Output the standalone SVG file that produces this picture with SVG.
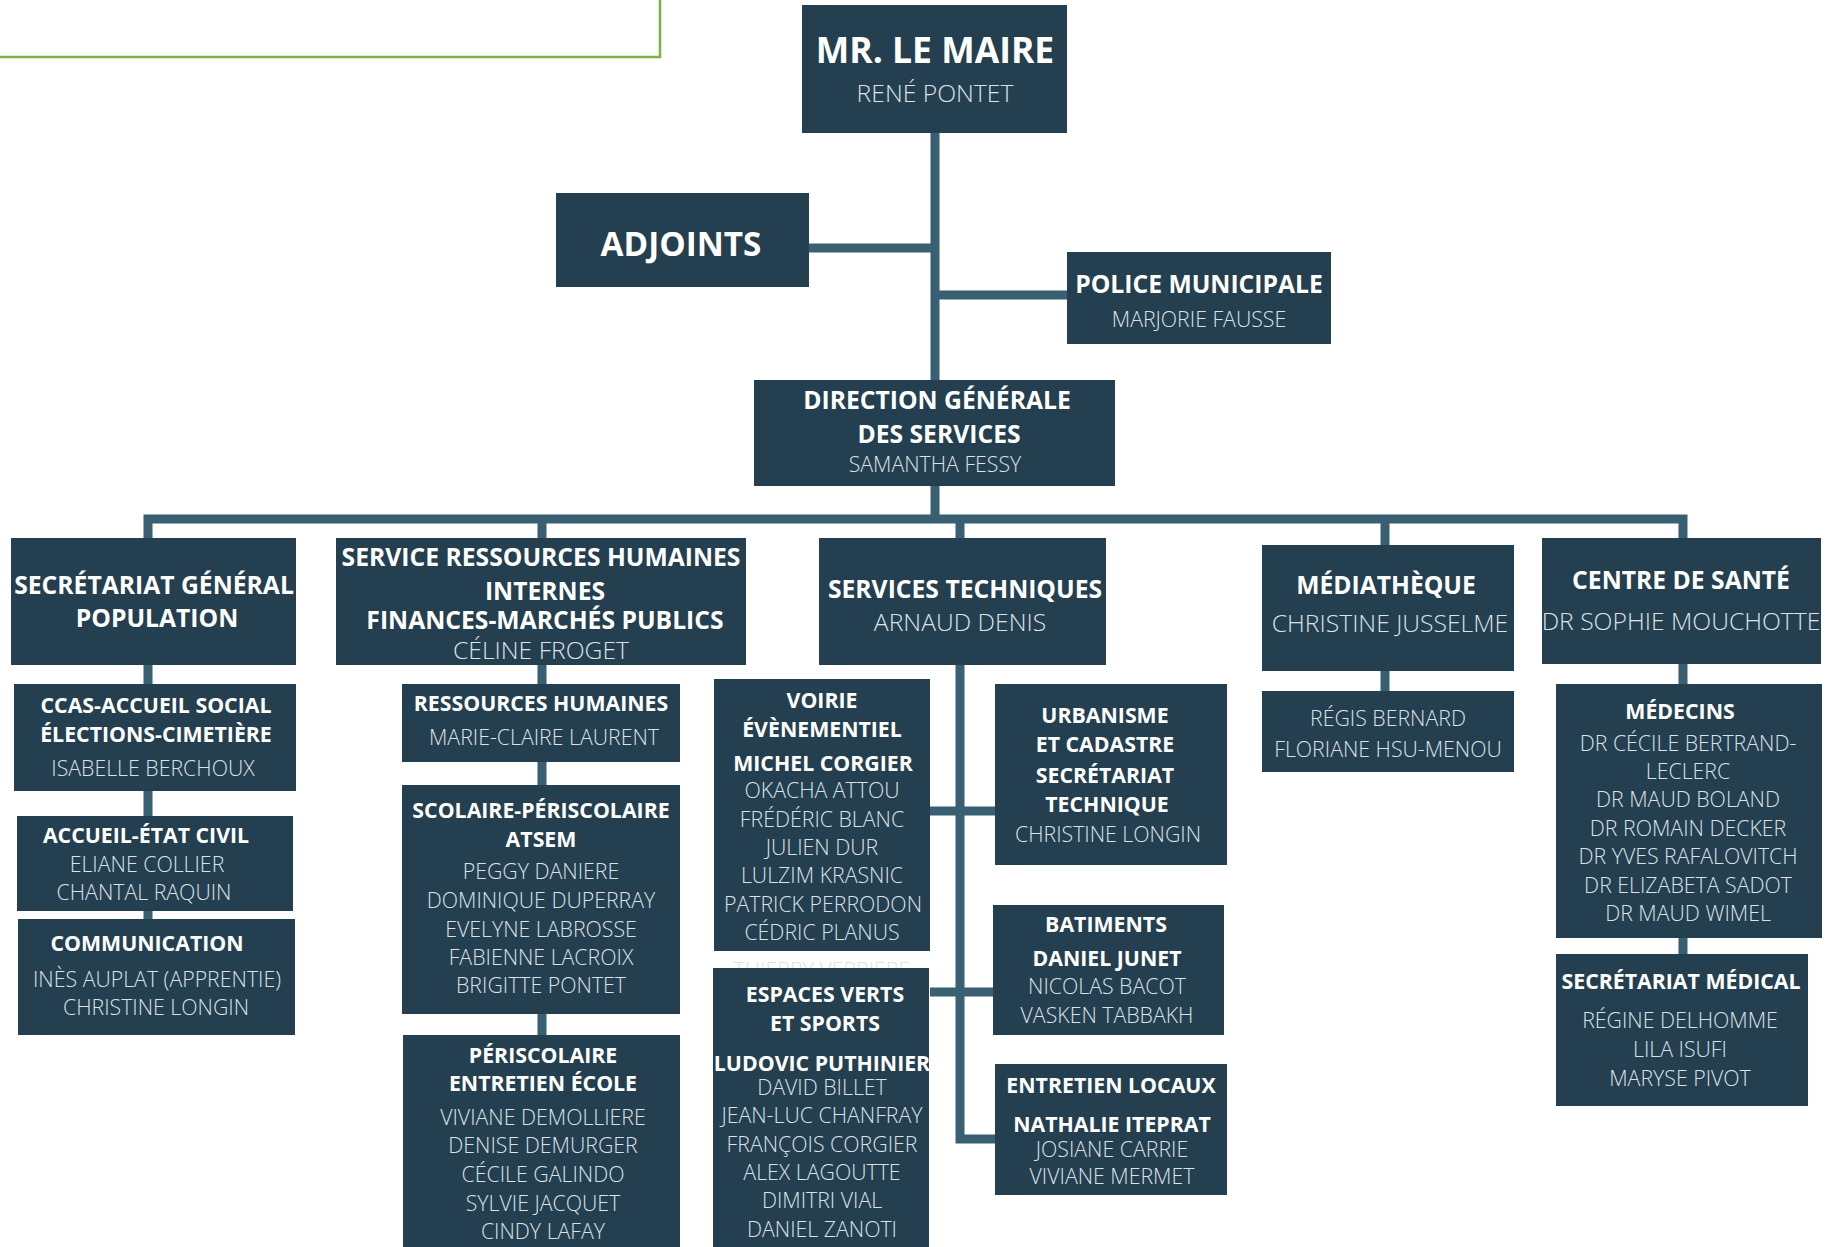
<svg xmlns="http://www.w3.org/2000/svg" width="1834" height="1247" viewBox="0 0 1834 1247">
<style>
.bx{fill:#243f50}
.t{font-family:"Open Sans","Liberation Sans",sans-serif;font-weight:700;fill:#ffffff;text-anchor:middle;font-size:21.3px}
.n{font-family:"Open Sans","Liberation Sans",sans-serif;font-weight:300;fill:#dde2e6;text-anchor:middle;font-size:21.3px}
.L{font-size:24.7px}
.c{fill:none;stroke:#395f73;stroke-width:9;stroke-linejoin:miter}
</style>
<rect x="0" y="0" width="1834" height="1247" fill="#ffffff"/>
<rect x="-5" y="-5" width="665" height="62" fill="none" stroke="#77b545" stroke-width="2.5"/>

<g id="connectors">
<path class="c" d="M935 133 V380"/>
<path class="c" d="M809 248 H935"/>
<path class="c" d="M935 295 H1067"/>
<path class="c" d="M935 486 V519"/>
<path class="c" d="M148 538 V519 H1683 V538"/>
<path class="c" d="M542 519 V538"/>
<path class="c" d="M960 519 V538"/>
<path class="c" d="M1385 519 V545"/>
<path class="c" d="M148 665 V919"/>
<path class="c" d="M542 665 V1035"/>
<path class="c" d="M960 665 V1139 H995"/>
<path class="c" d="M930 811 H995"/>
<path class="c" d="M930 992 H993"/>
<path class="c" d="M1385 671 V691"/>
<path class="c" d="M1683 664 V954"/>
</g>

<g id="maire">
<rect class="bx" x="802" y="5" width="265" height="128"/>
<text class="t" x="935" y="63" style="font-size:35.5px">MR. LE MAIRE</text>
<text class="n L" x="935" y="102">RENÉ PONTET</text>
</g>

<g id="adjoints">
<rect class="bx" x="556" y="193" width="253" height="94"/>
<text class="t" x="681" y="256" style="font-size:33.3px">ADJOINTS</text>
</g>

<g id="police">
<rect class="bx" x="1067" y="252" width="264" height="92"/>
<text class="t L" x="1199" y="293">POLICE MUNICIPALE</text>
<text class="n" x="1199" y="327">MARJORIE FAUSSE</text>
</g>

<g id="dgs">
<rect class="bx" x="754" y="380" width="361" height="106"/>
<text class="t L" x="937" y="409">DIRECTION GÉNÉRALE</text>
<text class="t L" x="939" y="443">DES SERVICES</text>
<text class="n" x="935" y="472">SAMANTHA FESSY</text>
</g>

<g id="secretariat-general">
<rect class="bx" x="11" y="538" width="285" height="127"/>
<text class="t L" x="154" y="594">SECRÉTARIAT GÉNÉRAL</text>
<text class="t L" x="157" y="627">POPULATION</text>
</g>

<g id="srh">
<rect class="bx" x="336" y="538" width="410" height="127"/>
<text class="t L" x="541" y="566">SERVICE RESSOURCES HUMAINES</text>
<text class="t L" x="545" y="600">INTERNES</text>
<text class="t L" x="545" y="629">FINANCES-MARCHÉS PUBLICS</text>
<text class="n L" x="541" y="659">CÉLINE FROGET</text>
</g>

<g id="services-techniques">
<rect class="bx" x="819" y="538" width="287" height="127"/>
<text class="t L" x="965" y="598">SERVICES TECHNIQUES</text>
<text class="n L" x="960" y="631">ARNAUD DENIS</text>
</g>

<g id="mediatheque">
<rect class="bx" x="1262" y="545" width="252" height="126"/>
<text class="t L" x="1386" y="594">MÉDIATHÈQUE</text>
<text class="n L" x="1390" y="632">CHRISTINE JUSSELME</text>
</g>

<g id="centre-sante">
<rect class="bx" x="1542" y="538" width="279" height="126"/>
<text class="t L" x="1681" y="589">CENTRE DE SANTÉ</text>
<text class="n L" x="1681" y="630">DR SOPHIE MOUCHOTTE</text>
</g>

<g id="ccas">
<rect class="bx" x="14" y="684" width="282" height="107"/>
<text class="t" x="156" y="713">CCAS-ACCUEIL SOCIAL</text>
<text class="t" x="156" y="742">ÉLECTIONS-CIMETIÈRE</text>
<text class="n" x="153" y="776">ISABELLE BERCHOUX</text>
</g>

<g id="accueil-etat-civil">
<rect class="bx" x="17" y="816" width="276" height="95"/>
<text class="t" x="146" y="843">ACCUEIL-ÉTAT CIVIL</text>
<text class="n" x="147" y="872">ELIANE COLLIER</text>
<text class="n" x="144" y="900">CHANTAL RAQUIN</text>
</g>

<g id="communication">
<rect class="bx" x="18" y="919" width="277" height="116"/>
<text class="t" x="147" y="951">COMMUNICATION</text>
<text class="n" x="157" y="987">INÈS AUPLAT (APPRENTIE)</text>
<text class="n" x="156" y="1015">CHRISTINE LONGIN</text>
</g>

<g id="ressources-humaines">
<rect class="bx" x="402" y="684" width="278" height="78"/>
<text class="t" x="541" y="711">RESSOURCES HUMAINES</text>
<text class="n" x="544" y="745">MARIE-CLAIRE LAURENT</text>
</g>

<g id="scolaire">
<rect class="bx" x="402" y="785" width="278" height="229"/>
<text class="t" x="541" y="818">SCOLAIRE-PÉRISCOLAIRE</text>
<text class="t" x="541" y="847">ATSEM</text>
<text class="n" x="541" y="879">PEGGY DANIERE</text>
<text class="n" x="541" y="908">DOMINIQUE DUPERRAY</text>
<text class="n" x="541" y="937">EVELYNE LABROSSE</text>
<text class="n" x="541" y="965">FABIENNE LACROIX</text>
<text class="n" x="541" y="993">BRIGITTE PONTET</text>
</g>

<g id="periscolaire">
<rect class="bx" x="403" y="1035" width="277" height="220"/>
<text class="t" x="543" y="1063">PÉRISCOLAIRE</text>
<text class="t" x="543" y="1091">ENTRETIEN ÉCOLE</text>
<text class="n" x="543" y="1125">VIVIANE DEMOLLIERE</text>
<text class="n" x="543" y="1153">DENISE DEMURGER</text>
<text class="n" x="543" y="1182">CÉCILE GALINDO</text>
<text class="n" x="543" y="1211">SYLVIE JACQUET</text>
<text class="n" x="543" y="1239">CINDY LAFAY</text>
</g>

<g id="voirie">
<rect class="bx" x="714" y="679" width="216" height="272"/>
<text class="t" x="822" y="708">VOIRIE</text>
<text class="t" x="822" y="737">ÉVÈNEMENTIEL</text>
<text class="t" x="823" y="771">MICHEL CORGIER</text>
<text class="n" x="822" y="798">OKACHA ATTOU</text>
<text class="n" x="822" y="827">FRÉDÉRIC BLANC</text>
<text class="n" x="822" y="855">JULIEN DUR</text>
<text class="n" x="822" y="883">LULZIM KRASNIC</text>
<text class="n" x="823" y="912">PATRICK PERRODON</text>
<text class="n" x="822" y="940">CÉDRIC PLANUS</text>
</g>

<g id="urbanisme">
<rect class="bx" x="995" y="684" width="232" height="181"/>
<text class="t" x="1105" y="723">URBANISME</text>
<text class="t" x="1105" y="752">ET CADASTRE</text>
<text class="t" x="1105" y="783">SECRÉTARIAT</text>
<text class="t" x="1107" y="812">TECHNIQUE</text>
<text class="n" x="1108" y="842">CHRISTINE LONGIN</text>
</g>

<g id="batiments">
<rect class="bx" x="993" y="905" width="231" height="130"/>
<text class="t" x="1106" y="932">BATIMENTS</text>
<text class="t" x="1107" y="966">DANIEL JUNET</text>
<text class="n" x="1107" y="994">NICOLAS BACOT</text>
<text class="n" x="1107" y="1023">VASKEN TABBAKH</text>
</g>

<g id="espaces-verts">
<text class="n" x="822" y="978">THIERRY VERRIERE</text>
<rect class="bx" x="713" y="968" width="216" height="287"/>
<text class="t" x="825" y="1002">ESPACES VERTS</text>
<text class="t" x="825" y="1031">ET SPORTS</text>
<text class="t" x="822" y="1071">LUDOVIC PUTHINIER</text>
<text class="n" x="822" y="1095">DAVID BILLET</text>
<text class="n" x="822" y="1123">JEAN-LUC CHANFRAY</text>
<text class="n" x="822" y="1152">FRANÇOIS CORGIER</text>
<text class="n" x="822" y="1180">ALEX LAGOUTTE</text>
<text class="n" x="822" y="1208">DIMITRI VIAL</text>
<text class="n" x="822" y="1237">DANIEL ZANOTI</text>
</g>

<g id="entretien-locaux">
<rect class="bx" x="995" y="1064" width="232" height="131"/>
<text class="t" x="1111" y="1093">ENTRETIEN LOCAUX</text>
<text class="t" x="1112" y="1132">NATHALIE ITEPRAT</text>
<text class="n" x="1112" y="1157">JOSIANE CARRIE</text>
<text class="n" x="1112" y="1184">VIVIANE MERMET</text>
</g>

<g id="mediatheque-equipe">
<rect class="bx" x="1262" y="691" width="252" height="81"/>
<text class="n" x="1388" y="726">RÉGIS BERNARD</text>
<text class="n" x="1388" y="757">FLORIANE HSU-MENOU</text>
</g>

<g id="medecins">
<rect class="bx" x="1556" y="684" width="266" height="254"/>
<text class="t" x="1680" y="719">MÉDECINS</text>
<text class="n" x="1688" y="751">DR CÉCILE BERTRAND-</text>
<text class="n" x="1688" y="779">LECLERC</text>
<text class="n" x="1688" y="807">DR MAUD BOLAND</text>
<text class="n" x="1688" y="836">DR ROMAIN DECKER</text>
<text class="n" x="1688" y="864">DR YVES RAFALOVITCH</text>
<text class="n" x="1688" y="893">DR ELIZABETA SADOT</text>
<text class="n" x="1688" y="921">DR MAUD WIMEL</text>
</g>

<g id="secretariat-medical">
<rect class="bx" x="1556" y="954" width="252" height="152"/>
<text class="t" x="1681" y="989">SECRÉTARIAT MÉDICAL</text>
<text class="n" x="1680" y="1028">RÉGINE DELHOMME</text>
<text class="n" x="1680" y="1057">LILA ISUFI</text>
<text class="n" x="1680" y="1086">MARYSE PIVOT</text>
</g>
</svg>
